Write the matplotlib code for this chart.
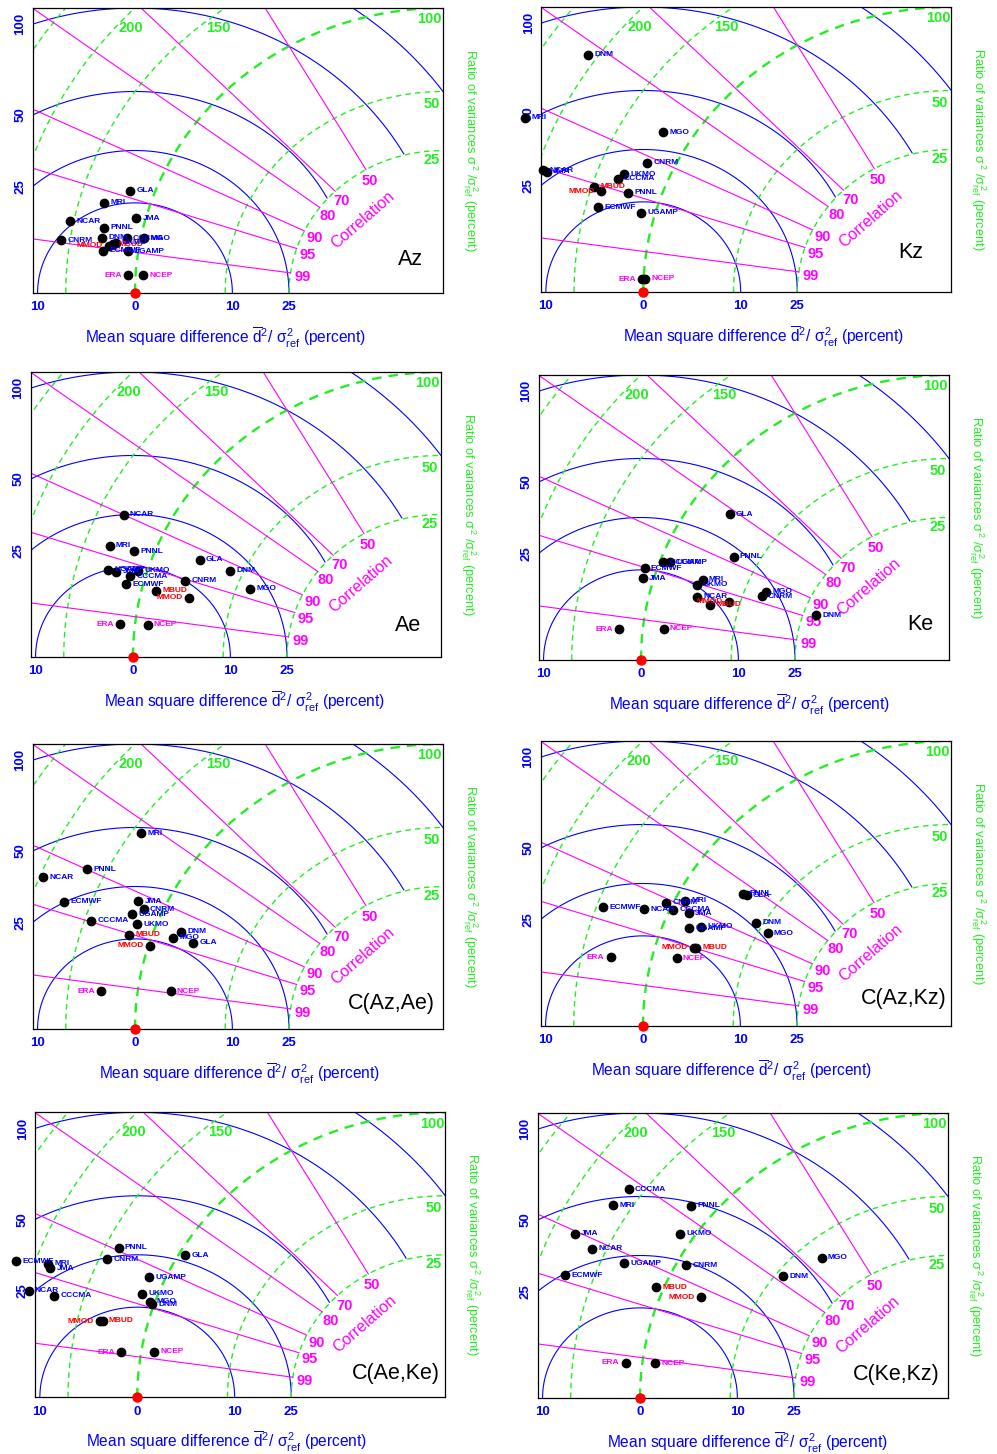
import numpy as np
import matplotlib.pyplot as plt

plt.rcParams['font.family'] = ['Liberation Sans', 'DejaVu Sans']
plt.rcParams['mathtext.fontset'] = 'custom'
plt.rcParams['mathtext.rm'] = 'Liberation Sans'
plt.rcParams['mathtext.it'] = 'Liberation Sans'

# ratio of variances (percent) and correlation
az_names = ['GLA', 'MRI', 'NCAR', 'JMA', 'PNNL', 'CNRM', 'DNM', 'CCCMA', 'MGO', 'MMOD', 'MBUD', 'UKMO', 'ECMWF', 'UGAMP', 'ERA', 'NCEP']
az_var = [116, 131, 153, 106, 126, 157, 126, 109, 98, 120, 118, 116, 124, 107, 105, 95]
az_corr = [.943, .961, .979, .967, .979, .989, .985, .983, .981, .9885, .9876, .9866, .9912, .9898, .9982, .998]

kz_names = ['DNM', 'MRI', 'MGO', 'CNRM', 'NCAR', 'JMA', 'UKMO', 'CCCMA', 'MBUD', 'MMOD', 'PNNL', 'ECMWF', 'UGAMP', 'ERA', 'NCEP']
kz_var = [208, 229, 119, 118, 194, 190, 130, 133, 148, 142, 122, 140, 109, 101, 99]
kz_corr = [.817, .915, .858, .909, .952, .952, .932, .939, .953, .955, .949, .968, .964, .999, .9989]

ae_names = ['NCAR', 'MRI', 'PNNL', 'GLA', 'DNM', 'MGO', 'UGAMP', 'JMA', 'UKMO', 'CCCMA', 'ECMWF', 'CNRM', 'MBUD', 'MMOD', 'ERA', 'NCEP']
ae_var = [131, 131, 113, 73, 56, 44, 126, 120, 106, 110, 111, 76, 91, 71, 110, 92]
ae_corr = [.900, .940, .937, .917, .915, .933, .962, .962, .956, .963, .970, .952, .970, .969, .994, .993]

ke_names = ['GLA', 'PNNL', 'CCCMA', 'UGAMP', 'ECMWF', 'JMA', 'MRI', 'UKMO', 'NCAR', 'MBUD', 'MMOD', 'MGO', 'CNRM', 'DNM', 'ERA', 'NCEP']
ke_var = [77, 62, 98, 94, 108, 107, 72, 74, 72, 64, 55, 41, 42, 21, 116, 87]
ke_corr = [.812, .888, .938, .935, .951, .961, .943, .952, .965, .970, .961, .927, .939, .939, .995, .993]

azae_names = ['MRI', 'PNNL', 'NCAR', 'ECMWF', 'JMA', 'CNRM', 'UGAMP', 'CCCMA', 'UKMO', 'MBUD', 'DNM', 'MGO', 'GLA', 'MMOD', 'ERA', 'NCEP']
azae_var = [143, 165, 197, 171, 118, 112, 118, 145, 112, 115, 84, 87, 75, 99, 125, 80]
azae_corr = [.819, .900, .925, .940, .911, .918, .929, .949, .938, .951, .928, .939, .937, .956, .993, .989]

azkz_names = ['PNNL', 'GLA', 'ECMWF', 'NCAR', 'CNRM', 'MRI', 'CCCMA', 'JMA', 'UGAMP', 'UKMO', 'DNM', 'MGO', 'MMOD', 'MBUD', 'ERA', 'NCEP']
azkz_var = [67, 65, 145, 116, 104, 94, 98, 88, 84, 78, 53, 46, 77, 76, 128, 85]
azkz_corr = [.824, .822, .938, .925, .906, .891, .911, .907, .927, .919, .868, .878, .950, .949, .977, .966]

aeke_names = ['ECMWF', 'MRI', 'JMA', 'PNNL', 'CNRM', 'GLA', 'UGAMP', 'NCAR', 'CCCMA', 'UKMO', 'MGO', 'DNM', 'MMOD', 'MBUD', 'ERA', 'NCEP']
aeke_var = [217, 188, 185, 140, 144, 96, 110, 197, 174, 110, 103, 101, 133, 131, 113, 92]
aeke_corr = [.946, .940, .943, .896, .915, .861, .916, .964, .963, .938, .944, .946, .973, .972, .989, .986]

kekz_names = ['CCCMA', 'MRI', 'PNNL', 'JMA', 'UKMO', 'NCAR', 'UGAMP', 'CNRM', 'ECMWF', 'DNM', 'MGO', 'MBUD', 'MMOD', 'ERA', 'NCEP']
kekz_var = [161, 164, 115, 180, 109, 161, 133, 94, 173, 47, 41, 105, 77, 111, 92]
kekz_corr = [.817, .849, .777, .903, .834, .911, .912, .877, .945, .782, .641, .925, .915, .993, .992]

msd_levels = [10, 25, 50, 100, 150]
var_levels = [25, 50, 100, 150, 200, 250]
var_labels = [25, 50, 100, 150, 200]
corr_levels = [0.5, 0.7, 0.8, 0.9, 0.95, 0.99]

BLUE = '#0000ff'
GREEN = '#22ee22'
MAG = '#ff00ff'

W, H = 997, 1454
fig = plt.figure(figsize=(W / 100, H / 100), dpi=100)

XL = -1.332  # left edge of the diagram (reference sits at -1)


def label_color(n):
    if n in ('MMOD', 'MBUD'):
        return 'red'
    if n in ('ERA', 'NCEP'):
        return MAG
    return BLUE


def panel(ref_px, bot_px, title, title_xy, xlab_x, names, var, corr):
    ax = fig.add_axes([(ref_px - 102.3) / W, (H - bot_px) / H, 410.3 / W, 285 / H])
    ax.set_xlim(XL, 0)
    ax.set_ylim(0, 1)
    ax.set_xticks([])
    ax.set_yticks([])
    for sp in ax.spines.values():
        sp.set_linewidth(0.9)

    # mean square difference circles round the reference point
    phi = np.linspace(0, np.pi, 500)
    for m in msd_levels:
        r = np.sqrt(m / 100.)
        x = -1 + r * np.cos(phi)
        y = r * np.sin(phi)
        x = np.where(np.hypot(x, y) >= 0.499, x, np.nan)
        ax.plot(x, y, color=BLUE, lw=0.8)
    # left labels where circles cross the frame
    for m in [25, 50, 100]:
        yy = np.sqrt(m / 100. - (XL + 1) ** 2)
        ax.text(XL - 0.04, yy, str(m), rotation=90, color=BLUE, fontsize=9.5,
                fontweight='bold', ha='center', va='center')
    for xv, s in [(-1.316, '10'), (-1, '0'), (-0.684, '10'), (-0.5, '25')]:
        ax.text(xv, -0.05, s, color=BLUE, fontsize=9.5, fontweight='bold',
                ha='center', va='center')

    # variance ratio arcs
    th = np.linspace(0, np.pi / 2, 300)
    for v in var_levels:
        s = np.sqrt(v / 100.)
        ax.plot(-s * np.cos(th), s * np.sin(th), color=GREEN,
                lw=1.7 if v == 100 else 1.0, ls=(0, (4, 3)))
    for v, (lx, ly) in zip(var_labels, [(-0.038, 0.466), (-0.038, 0.664), (-0.043, 0.96),
                                        (-0.73, 0.93), (-1.012, 0.93)]):
        ax.text(lx, ly, str(v), color=GREEN, fontsize=10.5, fontweight='bold',
                ha='center', va='center')

    # correlation lines
    for c in corr_levels:
        t = np.arccos(c)
        ax.plot([-0.5 * np.cos(t), -3 * np.cos(t)], [0.5 * np.sin(t), 3 * np.sin(t)],
                color=MAG, lw=0.8)
        ax.text(-0.46 * np.cos(t - 0.02), 0.46 * np.sin(t - 0.02), str(int(round(c * 100))),
                color=MAG, fontsize=10.5, fontweight='bold', ha='center', va='center')
    ax.text(-0.26, 0.257, 'Correlation', rotation=41, color=MAG, fontsize=11.5,
            ha='center', va='center')

    # models
    v = np.array(var) / 100.
    c = np.array(corr)
    s = np.sqrt(v)
    px = -s * c
    py = s * np.sqrt(1 - c ** 2)
    ax.plot(px, py, 'o', color='black', ms=6, clip_on=False, zorder=5)
    for n, x, y in zip(names, px, py):
        left = n in ('ERA', 'MMOD')
        ax.annotate(n, (x, y), xytext=(-4.5 if left else 4.5, 0), textcoords='offset points',
                    ha='right' if left else 'left', va='center', fontsize=6,
                    fontweight='bold', color=label_color(n), zorder=6,
                    annotation_clip=False)
    ax.plot(-1, 0, 'o', color='red', ms=6.5, clip_on=False, zorder=7)

    ax.text(title_xy[0], title_xy[1], title, fontsize=15.5, ha='right', va='center')
    ax.text(xlab_x, -45 / 285., r'Mean square difference $\overline{\mathrm{d}}^2$/ $\sigma^2_{\mathrm{ref}}$ (percent)',
            transform=ax.get_xaxis_transform(), color=BLUE, fontsize=11.2,
            ha='center', va='center')
    ax.text(1 + 27 / 410.3, 0.5, r'Ratio of variances $\sigma^2$ /$\sigma^2_{\mathrm{ref}}$ (percent)',
            transform=ax.transAxes, rotation=-90, color=GREEN, fontsize=9.3,
            ha='center', va='center')
    return ax


panel(135, 293, 'Az', (-0.065, 0.117), -0.705, az_names, az_var, az_corr)
panel(643.3, 292, 'Kz', (-0.09, 0.137), -0.61, kz_names, kz_var, kz_corr)
panel(133, 657, 'Ae', (-0.065, 0.112), -0.636, ae_names, ae_var, ae_corr)
panel(641, 660, 'Ke', (-0.052, 0.126), -0.646, ke_names, ke_var, ke_corr)
panel(135, 1029, 'C(Az,Ae)', (-0.026, 0.091), -0.659, azae_names, azae_var, azae_corr)
panel(643, 1026, 'C(Az,Kz)', (-0.013, 0.095), -0.711, azkz_names, azkz_var, azkz_corr)
panel(137.3, 1397.3, 'C(Ae,Ke)', (-0.016, 0.085), -0.711, aeke_names, aeke_var, aeke_corr)
panel(640, 1398, 'C(Ke,Kz)', (-0.026, 0.081), -0.649, kekz_names, kekz_var, kekz_corr)

fig.savefig('out.png', dpi=100)
